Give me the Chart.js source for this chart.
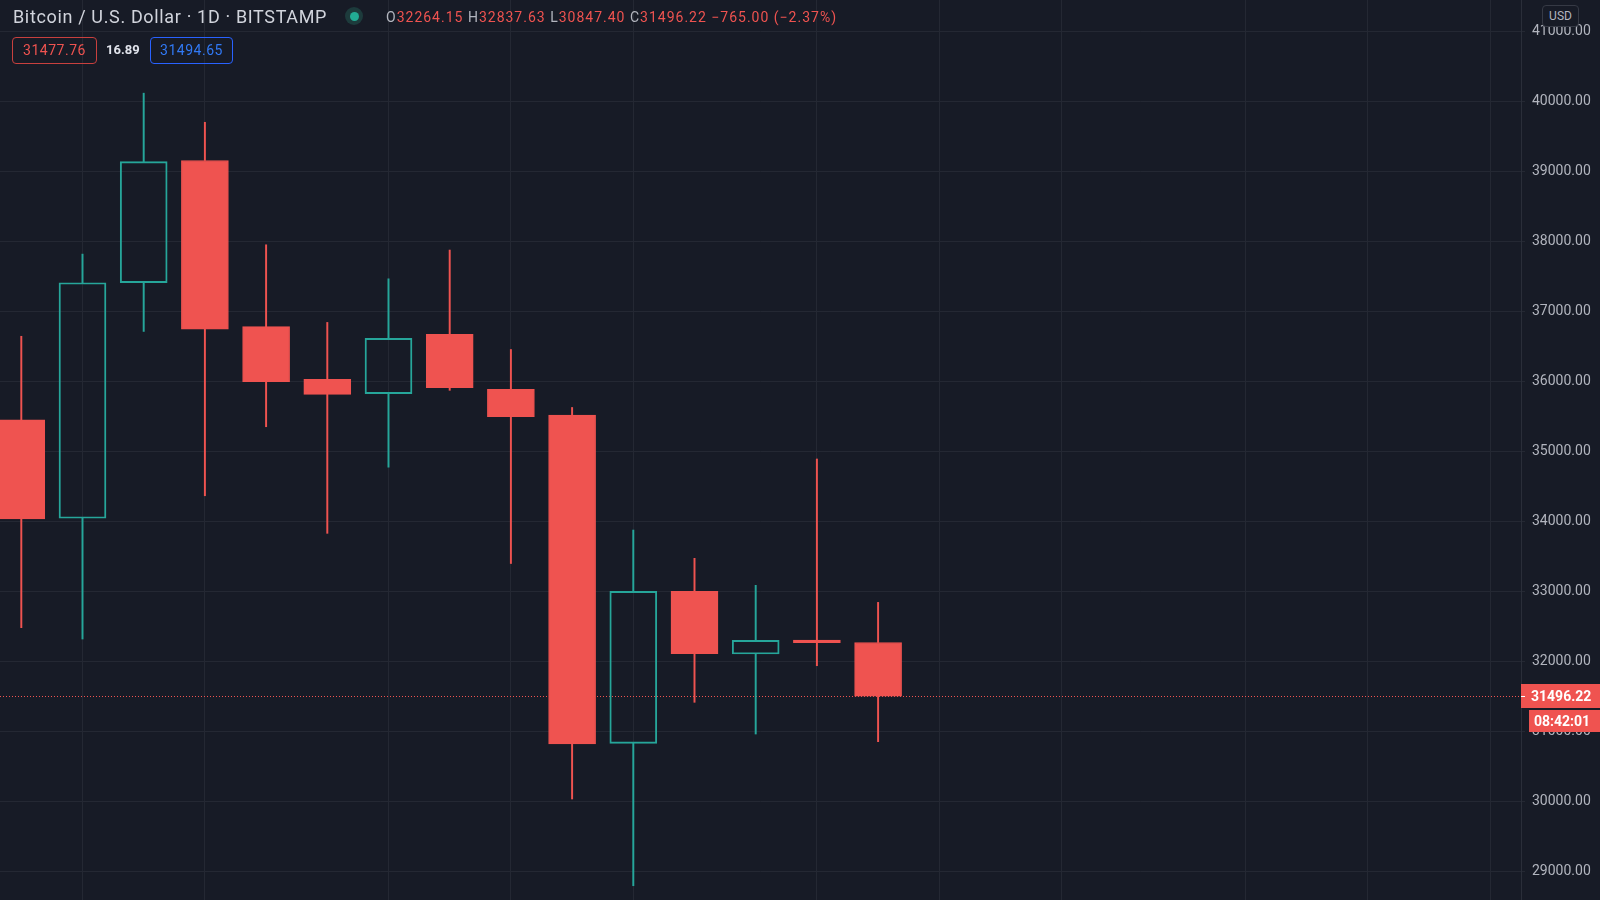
<!DOCTYPE html>
<html><head><meta charset="utf-8">
<script src="https://cdn.jsdelivr.net/npm/chart.js@4.4.1/dist/chart.umd.min.js"></script>
<style>
html,body{margin:0;padding:0;background:#171b26;width:1600px;height:900px;overflow:hidden;}
#wrap{position:relative;width:1600px;height:900px;}
canvas{position:absolute;left:0;top:0;}
.t{position:absolute;font-family:Roboto,'Liberation Sans',sans-serif;white-space:nowrap;}
.box{position:absolute;box-sizing:border-box;border-radius:4px;text-align:center;font-family:Roboto,'Liberation Sans',sans-serif;font-size:14px;letter-spacing:0.5px;}
</style></head><body>
<div id="wrap">
<canvas id="c" width="1600" height="900"></canvas>
<div class="t" id="title" style="left:13px;top:6px;font-size:18px;line-height:22px;letter-spacing:0.65px;color:#d1d4dc;">Bitcoin / U.S. Dollar · 1D · BITSTAMP</div>
<div style="position:absolute;left:345px;top:7px;width:18px;height:18px;border-radius:50%;background:#1d3b3c;"></div>
<div style="position:absolute;left:349.5px;top:11.5px;width:9px;height:9px;border-radius:50%;background:#22ab94;"></div>
<div class="t" id="ohlc" style="left:386px;top:7px;font-size:14px;line-height:20px;letter-spacing:1.0px;color:#ef5350;"><span style="color:#b2b5be">O</span>32264.15 <span style="color:#b2b5be">H</span>32837.63 <span style="color:#b2b5be">L</span>30847.40 <span style="color:#b2b5be">C</span>31496.22 −765.00 (−2.37%)</div>
<div class="box" style="left:12px;top:37px;width:85px;height:27px;line-height:25px;border:1px solid #c8403e;color:#ef5350;">31477.76</div>
<div class="t" style="left:106px;top:40px;font-size:13px;line-height:20px;font-weight:bold;color:#e0e3eb;">16.89</div>
<div class="box" style="left:150px;top:37px;width:83px;height:27px;line-height:25px;border:1px solid #2962ff;color:#3179f5;">31494.65</div>
<div class="box" style="left:1542px;top:5px;width:37px;height:22px;line-height:20px;border:1px solid #363a45;background:#171b26;color:#b2b5be;font-size:12px;letter-spacing:0;">USD</div>
</div>
<script>
// ---- data ----
const days   = [0,1,2,3,4,5,6,7,8,9,10,11,12,13,14];
const opens  = [35447, 34039, 37404, 39150, 36776, 36024, 35819, 36667, 35881, 35514, 30824, 32996, 32100, 32300, 32264.15];
const highs  = [36639, 37813, 40112, 39696, 37946, 36837, 37460, 37871, 36450, 35622, 33871, 33467, 33081, 34886, 32837.63];
const lows   = [32476, 32314, 36708, 34361, 35347, 33824, 34769, 35867, 33393, 30029, 28790, 31410, 30957, 31933, 30847.40];
const closes = [34029, 37404, 39134, 36741, 35990, 35810, 36610, 35905, 35490, 30814, 32996, 32105, 32296, 32261.22, 31496.22];
const yTickValues = [29000,30000,31000,32000,33000,34000,35000,36000,37000,38000,39000,40000,41000];
const timeGridIdx = [1,3,6,8,10,13,15,17,20,22,24];
const lastPrice = 31496.22;
const countdown = '08:42:01';

const UP = '#26a69a', DOWN = '#ef5350', BG = '#171b26', GRID = '#242833';
const isUp = days.map(i => closes[i] >= opens[i]);
const colr = days.map(i => isUp[i] ? UP : DOWN);

const priceLine = {
  id: 'priceLine',
  beforeDatasetsDraw(chart) {
    const y = chart.scales.y.getPixelForValue(lastPrice);
    const ctx = chart.ctx, a = chart.chartArea;
    ctx.save();
    ctx.strokeStyle = DOWN; ctx.lineWidth = 1; ctx.setLineDash([1,2]);
    ctx.beginPath(); ctx.moveTo(a.left, Math.round(y)+0.5); ctx.lineTo(a.right, Math.round(y)+0.5); ctx.stroke();
    ctx.restore();
  },
  afterDraw(chart) {
    const ys = chart.scales.y;
    const y = Math.round(ys.getPixelForValue(lastPrice));
    const ctx = chart.ctx, x0 = ys.left;
    ctx.save();
    ctx.fillStyle = DOWN;
    ctx.fillRect(x0, y - 12, 1600 - x0, 24);
    ctx.fillRect(x0 + 8, y + 14, 1600 - x0 - 8, 22);
    ctx.fillStyle = '#ffffff';
    ctx.fillRect(x0, y, 4, 1);
    ctx.font = 'bold 14px Roboto, "Liberation Sans", sans-serif';
    ctx.textBaseline = 'middle'; ctx.textAlign = 'left';
    ctx.fillText(lastPrice.toFixed(2), x0 + 10, y + 1);
    ctx.fillText(countdown, x0 + 13, y + 26);
    ctx.restore();
  }
};

new Chart(document.getElementById('c'), {
  type: 'bar',
  data: {
    datasets: [
      { label: 'body', order: 0, grouped: false, barThickness: 47,
        data: days.map(i => ({x: i, y: [opens[i], closes[i]]})),
        backgroundColor: days.map(i => isUp[i] ? 'rgba(0,0,0,0)' : DOWN),
        borderColor: colr, borderWidth: days.map(i => isUp[i] ? 1.3 : 1), borderSkipped: false },
      { label: 'upper wick', order: 1, grouped: false, barThickness: 1.3,
        data: days.map(i => ({x: i, y: [Math.max(opens[i], closes[i]), highs[i]]})),
        backgroundColor: colr, borderWidth: 0 },
      { label: 'lower wick', order: 1, grouped: false, barThickness: 1.3,
        data: days.map(i => ({x: i, y: [lows[i], Math.min(opens[i], closes[i])]})),
        backgroundColor: colr, borderWidth: 0 }
    ]
  },
  options: {
    responsive: false, animation: false, events: [],
    layout: { padding: 0 },
    plugins: { legend: { display: false }, tooltip: { enabled: false } },
    scales: {
      x: { type: 'linear', position: 'bottom', min: -0.348, max: 24.505, offset: false,
        grid: { color: GRID, drawTicks: false, lineWidth: 1, offset: false },
        border: { display: false },
        ticks: { display: false },
        afterBuildTicks: s => { s.ticks = timeGridIdx.map(v => ({value: v})); },
        afterFit: s => { s.height = 0; } },
      y: { position: 'right', min: 28586, max: 41443,
        grid: { color: GRID, drawTicks: true, tickLength: 4, lineWidth: 1 },
        border: { display: true, color: '#2a2e39' },
        ticks: { color: '#b2b5be', padding: 7, font: { family: 'Roboto', size: 14 },
          callback: v => Number(v).toFixed(2) },
        afterBuildTicks: s => { s.ticks = yTickValues.map(v => ({value: v})); },
        afterFit: s => { s.width = 79; s.paddingTop = 0; s.paddingBottom = 0; } }
    }
  },
  plugins: [priceLine]
});
</script>
</body></html>
